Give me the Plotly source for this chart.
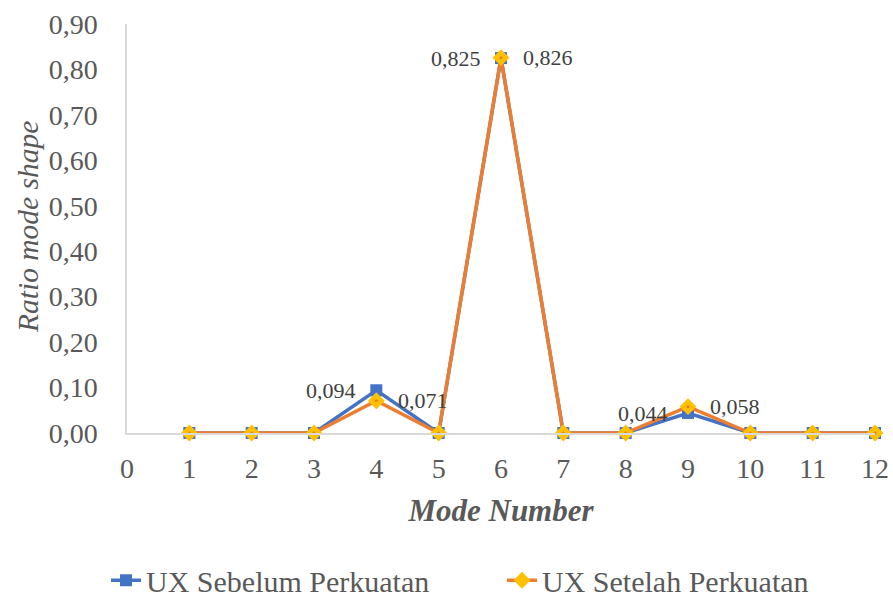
import plotly.graph_objects as go

modes = [1, 2, 3, 4, 5, 6, 7, 8, 9, 10, 11, 12]
ux_sebelum = [0, 0, 0, 0.094, 0, 0.825, 0, 0, 0.044, 0, 0, 0]
ux_setelah = [0, 0, 0, 0.071, 0, 0.826, 0, 0, 0.058, 0, 0, 0]
name_sebelum = "UX Sebelum Perkuatan"
name_setelah = "UX Setelah Perkuatan"
x_ticks = list(range(0, 13))

SERIF = "Liberation Serif"
BLUE = "#4472C4"
ORANGE = "#ED7D31"
GOLD = "#FFC000"


def fmt(v):
    return f"{v:.3f}".replace(".", ",")


fig = go.Figure()
fig.add_trace(go.Scatter(
    x=modes, y=ux_sebelum, name=name_sebelum, mode="lines+markers",
    line=dict(color=BLUE, width=3.5),
    marker=dict(symbol="square", size=12, color=BLUE),
    cliponaxis=False, legend="legend",
))
fig.add_trace(go.Scatter(
    x=modes, y=ux_setelah, name=name_setelah, mode="lines+markers",
    line=dict(color=ORANGE, width=3.5),
    marker=dict(symbol="diamond", size=13, color=GOLD),
    cliponaxis=False, legend="legend2",
))
# small orange centre dot on the diamond markers
fig.add_trace(go.Scatter(
    x=modes, y=ux_setelah, mode="markers", showlegend=False, hoverinfo="skip",
    marker=dict(symbol="circle", size=3, color=ORANGE),
    cliponaxis=False,
))

label_font = dict(family=SERIF, size=22, color="#404040")

# value labels: "sebelum" to the left of its point, "setelah" to the right
annotations = []
for x, v in zip(modes, ux_sebelum):
    if v > 0:
        annotations.append(dict(x=x, y=v, text=fmt(v), showarrow=False,
                                xanchor="right", yanchor="middle", xshift=-18,
                                font=label_font))
for x, v in zip(modes, ux_setelah):
    if v > 0:
        annotations.append(dict(x=x, y=v, text=fmt(v), showarrow=False,
                                xanchor="left", yanchor="middle", xshift=20,
                                font=label_font))

# y-axis title
annotations.append(dict(
    xref="paper", yref="paper", x=(28 - 127) / 748, y=(433 - 227) / 409,
    text="<i>Ratio mode shape</i>", textangle=-90, showarrow=False,
    xanchor="center", yanchor="middle",
    font=dict(family=SERIF, size=29.5, color="#595959"),
))

legend_style = dict(
    orientation="h", xref="container", yref="paper",
    xanchor="left", y=-0.36, yanchor="middle",
    font=dict(family=SERIF, size=30, color="#595959"),
)

fig.update_layout(
    width=893, height=597,
    margin=dict(l=127, r=18, t=24, b=164, autoexpand=False),
    paper_bgcolor="white", plot_bgcolor="white",
    separators=", ",
    font=dict(family=SERIF, color="#595959", size=28),
    showlegend=True,
    legend=dict(x=106 / 893, **legend_style),
    legend2=dict(x=502 / 893, **legend_style),
    annotations=annotations,
    xaxis=dict(
        range=[0, 12], tickvals=x_ticks, ticktext=[str(t) for t in x_ticks],
        showgrid=False, zeroline=False, showline=True, linecolor="#D9D9D9",
        linewidth=1.5, ticks="", ticklabelstandoff=10,
        tickfont=dict(family=SERIF, size=28, color="#595959"),
        title=dict(text="<b><i>Mode Number</i></b>", standoff=16,
                   font=dict(family=SERIF, size=31, color="#595959")),
    ),
    yaxis=dict(
        range=[0, 0.9], dtick=0.1, tickformat=".2f",
        showgrid=False, zeroline=False, showline=True, linecolor="#D9D9D9",
        linewidth=1.5, ticks="", ticklabelstandoff=22,
        tickfont=dict(family=SERIF, size=28, color="#595959"),
    ),
)

fig.write_html("out.html")
